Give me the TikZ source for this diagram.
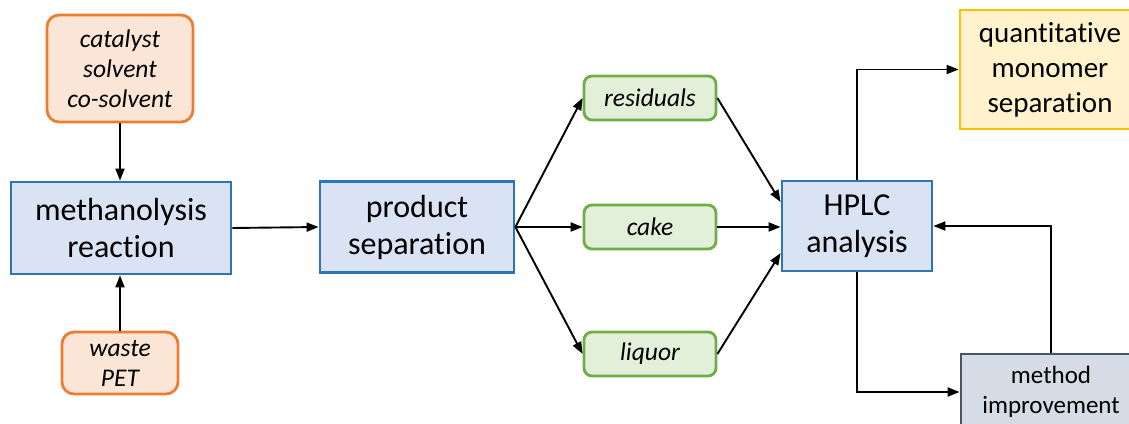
\documentclass[tikz,border=0pt]{standalone}
\usepackage{fontspec}
\setmainfont{Carlito}[RawFeature=-liga]
\usetikzlibrary{arrows.meta}

\definecolor{orgline}{HTML}{ED7D31}
\definecolor{orgfill}{HTML}{FBE5D6}
\definecolor{bluline}{HTML}{2E75B6}
\definecolor{blufill}{HTML}{DAE3F3}
\definecolor{grnline}{HTML}{70AD47}
\definecolor{grnfill}{HTML}{E2F0D9}
\definecolor{yelline}{HTML}{FFC000}
\definecolor{yelfill}{HTML}{FFF2CC}
\definecolor{slaline}{HTML}{44546A}
\definecolor{slafill}{HTML}{D6DCE5}

\tikzset{
  box/.style={draw, line width=2.8pt, inner sep=0pt, align=center},
  inputbox/.style={box, draw=orgline, fill=orgfill, rounded corners=12pt,
    font=\fontsize{25.5}{30}\selectfont\itshape},
  procbox/.style={box, draw=bluline, fill=blufill,
    font=\fontsize{32}{37}\selectfont},
  fracbox/.style={box, draw=grnline, fill=grnfill, rounded corners=8pt,
    font=\fontsize{25.5}{30}\selectfont\itshape},
  outbox/.style={box, draw=yelline, fill=yelfill,
    font=\fontsize{29}{35}\selectfont},
  loopbox/.style={box, draw=slaline, fill=slafill,
    font=\fontsize{25}{30}\selectfont},
  arr/.style={draw, line width=1.9pt, -{Triangle[length=12pt,width=9pt]}},
}

\begin{document}
\begin{tikzpicture}[x=1pt, y=-1pt]
\useasboundingbox (0,0) rectangle (1129,423);
\clip (0,0) rectangle (1129,423);

% inputs and reaction
\node[inputbox, minimum width=146pt, minimum height=107pt] (cat) at (120,68.5)
  {catalyst\\solvent\\co-solvent};
\node[procbox, minimum width=220pt, minimum height=92pt] (meth) at (121,228)
  {methanolysis\\reaction};
\node[inputbox, minimum width=116pt, minimum height=62pt] (waste) at (120,363)
  {waste\\PET};

% separation and fractions
\node[procbox, minimum width=194pt, minimum height=91pt] (prod) at (417,227)
  {product\\separation};
\node[fracbox, minimum width=132pt, minimum height=44pt] (res) at (650,98) {residuals};
\node[fracbox, minimum width=132pt, minimum height=44pt] (cake) at (650,227) {cake};
\node[fracbox, minimum width=132pt, minimum height=44pt] (liq) at (650,354) {liquor};

% analysis and outcomes
\node[procbox, minimum width=150pt, minimum height=90pt] (hplc) at (857,226)
  {HPLC\\analysis};
\node[outbox, minimum width=180pt, minimum height=119pt] (quant) at (1050,69.5)
  {quantitative\\monomer\\separation};
\node[loopbox, minimum width=180pt, minimum height=76pt] (meti) at (1051,392)
  {method\\improvement};

% connectors
\draw[arr] (cat.south) -- (cat.south |- meth.north);
\draw[arr] (waste.north) -- (waste.north |- meth.south);
\draw[arr] (meth.east) -- (prod.west);
\draw[arr] (prod.east) -- (res.west);
\draw[arr] (prod.east) -- (cake.west);
\draw[arr] (prod.east) -- (liq.west);
\draw[arr] (res.east) -- ([yshift=24pt]hplc.west);
\draw[arr] (cake.east) -- (cake.east -| hplc.west);
\draw[arr] (liq.east) -- ([yshift=-27pt]hplc.west);
\draw[arr] (hplc.north) |- (quant.west);
\draw[arr] (hplc.south) |- (meti.west);
\draw[arr] (meti.north) |- (hplc.east);
\end{tikzpicture}
\end{document}
